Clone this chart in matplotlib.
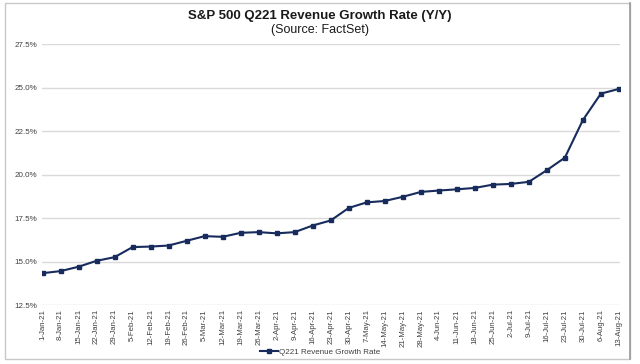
import matplotlib
matplotlib.use("Agg")
import matplotlib.pyplot as plt
from matplotlib.patches import Rectangle

plt.rcParams['font.family'] = ['Liberation Sans', 'DejaVu Sans']

dates = ["1-Jan-21", "8-Jan-21", "15-Jan-21", "22-Jan-21", "29-Jan-21", "5-Feb-21",
         "12-Feb-21", "19-Feb-21", "26-Feb-21", "5-Mar-21", "12-Mar-21", "19-Mar-21",
         "26-Mar-21", "2-Apr-21", "9-Apr-21", "16-Apr-21", "23-Apr-21", "30-Apr-21",
         "7-May-21", "14-May-21", "21-May-21", "28-May-21", "4-Jun-21", "11-Jun-21",
         "18-Jun-21", "25-Jun-21", "2-Jul-21", "9-Jul-21", "16-Jul-21", "23-Jul-21",
         "30-Jul-21", "6-Aug-21", "13-Aug-21"]
growth = [14.33, 14.45, 14.70, 15.04, 15.25, 15.83, 15.86, 15.92, 16.19, 16.46,
          16.42, 16.65, 16.69, 16.62, 16.69, 17.07, 17.36, 18.08, 18.40, 18.48,
          18.72, 19.00, 19.08, 19.15, 19.23, 19.42, 19.46, 19.58, 20.25, 20.97,
          23.13, 24.65, 24.92]
yticks = [12.5, 15.0, 17.5, 20.0, 22.5, 25.0, 27.5]
series_name = "Q221 Revenue Growth Rate"

fig = plt.figure(figsize=(6.4, 3.64), dpi=100)
ax = fig.add_axes([0.065, 0.162, 0.904, 0.717])

x = list(range(len(dates)))
ax.plot(x, growth, color="#172B5C", lw=1.5, marker="s", ms=3.2,
        markerfacecolor="#172B5C", markeredgecolor="#172B5C", label=series_name, zorder=3)

ax.set_ylim(12.5, 27.5)
ax.set_yticks(yticks)
ax.set_yticklabels([f"{v:.1f}%" for v in yticks], fontsize=5.8, color="#404040")
ax.set_xlim(-0.05, len(dates) - 1 + 0.07)
ax.set_xticks(x)
ax.set_xticklabels(dates, rotation=90, fontsize=5.6, color="#404040")
ax.tick_params(axis="both", length=0, pad=3)
ax.grid(axis="y", color="#D9D9D9", lw=1.0)
ax.set_axisbelow(True)
for s in ax.spines.values():
    s.set_visible(False)

fig.text(0.5, 0.955, "S&P 500 Q221 Revenue Growth Rate (Y/Y)", ha="center", va="center",
         fontsize=9.5, fontweight="bold", color="#1a1a1a")
fig.text(0.5, 0.917, "(Source: FactSet)", ha="center", va="center",
         fontsize=9, color="#1a1a1a")

ax.legend(loc="center", bbox_to_anchor=(0.5, 0.032), bbox_transform=fig.transFigure,
          frameon=False, fontsize=5.8, handlelength=2.2, handletextpad=0.1,
          labelcolor="#404040")

fig.patches.append(Rectangle((5/640, 1 - 359/364), 625/640, 356/364, transform=fig.transFigure,
                             fill=False, edgecolor="#C8C8C8", lw=1.0))
fig.lines.append(plt.Line2D([630/640, 630/640], [1 - 359/364, 1 - 3/364],
                            transform=fig.transFigure, color="#9A9A9A", lw=1.2))

fig.savefig("out.png", dpi=100)
